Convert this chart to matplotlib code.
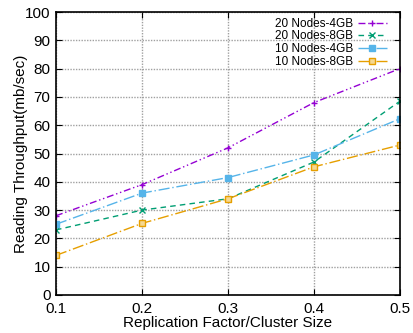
import matplotlib.pyplot as plt

plt.rcParams['font.family'] = ['Liberation Sans', 'DejaVu Sans']

x = [0.1, 0.2, 0.3, 0.4, 0.5]
n20_4gb = [28, 39, 52, 68, 80]
n20_8gb = [23, 30, 34, 47, 68.5]
n10_4gb = [25, 36, 41.5, 49.5, 62.3]
n10_8gb = [14, 25.3, 34, 45.3, 53]

fig = plt.figure(figsize=(4.14, 3.33), dpi=100)
ax = fig.add_axes([56/414, 1 - 295/333, 344/414, 283/333])

ax.plot(x, n20_4gb, color='#9400D3', lw=1, ls=(0, (5, 2, 1, 2, 1, 2)),
        marker='+', ms=5, mew=1, label='20 Nodes-4GB')
ax.plot(x, n20_8gb, color='#009E73', lw=1, ls=(0, (4, 3)),
        marker='x', ms=4, mew=1, label='20 Nodes-8GB')
ax.plot(x, n10_4gb, color='#56B4E9', lw=1, ls=(0, (8, 2, 1, 2)),
        marker='s', ms=4, mew=1, label='10 Nodes-4GB')
ax.plot(x, n10_8gb, color='#E69F00', lw=1, ls=(0, (8, 2, 1, 2)),
        marker='s', ms=5, mew=1, mfc='#f6d890', label='10 Nodes-8GB')

ax.set_xlim(0.1, 0.5)
ax.set_ylim(0, 100)
ax.set_xticks(x)
ax.set_xticklabels(['0.1', '0.2', '0.3', '0.4', '0.5'])
ax.set_yticks(range(0, 101, 10))
ax.tick_params(direction='in', top=True, right=True, labelsize=11, length=4)
ax.tick_params(axis='x', pad=5)
ax.tick_params(axis='y', pad=4)
ax.grid(True, color='#a0a0a0', ls=(0, (1, 1)), lw=1)
for s in ax.spines.values():
    s.set_linewidth(1.2)

ax.set_xlabel('Replication Factor/Cluster Size', fontsize=11, labelpad=0)
ax.set_ylabel('Reading Throughput(mb/sec)', fontsize=11, labelpad=-2)

leg = ax.legend(loc='upper right', bbox_to_anchor=(0.98, 1.0), frameon=False,
                markerfirst=False, fontsize=8.5, handlelength=2.5,
                borderaxespad=0.1, labelspacing=0.05, handletextpad=0.4)
for t in leg.get_texts():
    t.set_ha('right')

fig.savefig('out.png', dpi=100)
